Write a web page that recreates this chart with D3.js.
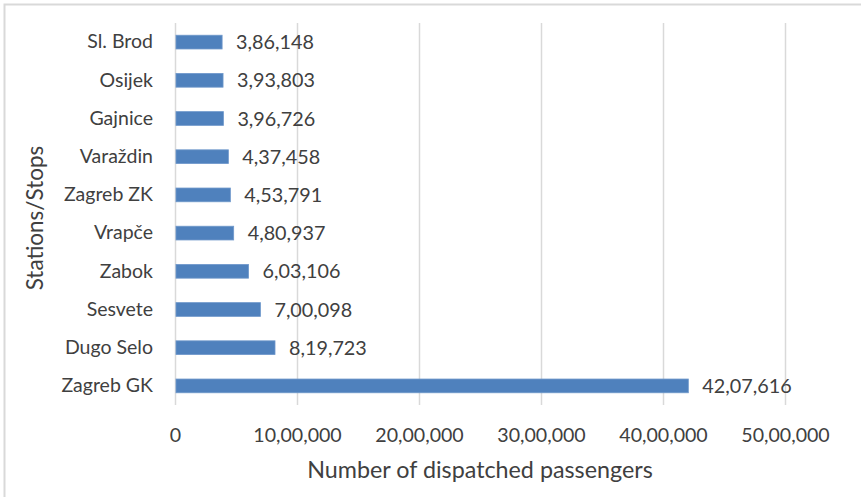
<!DOCTYPE html>
<html>
<head>
<meta charset="utf-8">
<script src="https://cdn.jsdelivr.net/npm/d3@7"></script>
<style>
  html, body { margin: 0; padding: 0; background: #fff; }
  svg { display: block; }
  text { font-family: Lato, "Open Sans", sans-serif; fill: #404040; }
</style>
</head>
<body>
<svg id="chart" width="861" height="497"></svg>
<script>
const categories = ["Sl. Brod", "Osijek", "Gajnice", "Varaždin", "Zagreb ZK", "Vrapče", "Zabok", "Sesvete", "Dugo Selo", "Zagreb GK"];
const values = [386148, 393803, 396726, 437458, 453791, 480937, 603106, 700098, 819723, 4207616];
const tickValues = [0, 1000000, 2000000, 3000000, 4000000, 5000000];
const xTitle = "Number of dispatched passengers";
const yTitle = "Stations/Stops";

function indianFormat(n) {
  const s = String(Math.round(n));
  if (s.length <= 3) return s;
  const last3 = s.slice(-3);
  let rest = s.slice(0, -3);
  const parts = [];
  while (rest.length > 2) { parts.unshift(rest.slice(-2)); rest = rest.slice(0, -2); }
  if (rest.length) parts.unshift(rest);
  return parts.join(",") + "," + last3;
}

const svg = d3.select("#chart");
const margin = { left: 175, right: 76, top: 23, bottom: 92 };
const W = 861, H = 497;

// outer border (top/left visible)
svg.append("rect").attr("x", 4.5).attr("y", 4.5).attr("width", 870).attr("height", 510)
  .attr("fill", "none").attr("stroke", "#d9d9d9").attr("stroke-width", 2);

const x = d3.scaleLinear().domain([0, 5000000]).range([margin.left, W - margin.right]);
const y = d3.scaleBand().domain(categories).range([margin.top, H - margin.bottom]).paddingInner(0.64).paddingOuter(0.32);

// gridlines
svg.append("g").selectAll("line").data(tickValues).join("line")
  .attr("x1", d => Math.round(x(d)) + 0.5).attr("x2", d => Math.round(x(d)) + 0.5)
  .attr("y1", margin.top).attr("y2", H - margin.bottom)
  .attr("stroke", "#d9d9d9").attr("stroke-width", 1.5);

// bars
svg.append("g").selectAll("rect").data(categories).join("rect")
  .attr("x", x(0) + 1)
  .attr("y", d => y(d))
  .attr("width", (d, i) => x(values[i]) - x(0) - 1)
  .attr("height", y.bandwidth())
  .attr("fill", "#4f81bd")
  .attr("stroke", "#6f98cb").attr("stroke-width", 0.8);

// value labels
svg.append("g").selectAll("text").data(categories).join("text")
  .attr("x", (d, i) => x(values[i]) + 14)
  .attr("y", d => y(d) + y.bandwidth() / 2)
  .attr("dy", "0.36em")
  .attr("font-size", 19.8)
  .text((d, i) => indianFormat(values[i]));

// y axis category labels
const yAxis = d3.axisLeft(y).tickSize(0).tickPadding(22);
const gy = svg.append("g").attr("transform", `translate(${margin.left},0)`).call(yAxis);
gy.select(".domain").remove();
gy.selectAll("text").attr("font-size", 19.5).attr("fill", "#404040").style("font-family", "Lato, sans-serif");

// x axis tick labels
const xAxis = d3.axisBottom(x).tickValues(tickValues).tickFormat(indianFormat).tickSize(0).tickPadding(0);
const gx = svg.append("g").attr("transform", `translate(0,${H - margin.bottom})`).call(xAxis);
gx.select(".domain").remove();
gx.selectAll("text").attr("font-size", 19.6).attr("fill", "#404040").style("font-family", "Lato, sans-serif")
  .attr("dy", null).attr("y", 37);

// axis titles
svg.append("text").attr("x", (x(0) + x(5000000)) / 2).attr("y", 478)
  .attr("text-anchor", "middle").attr("font-size", 23.3).text(xTitle);

svg.append("text").attr("transform", `translate(43,218) rotate(-90)`)
  .attr("text-anchor", "middle").attr("font-size", 22.5).text(yTitle);
</script>
</body>
</html>
